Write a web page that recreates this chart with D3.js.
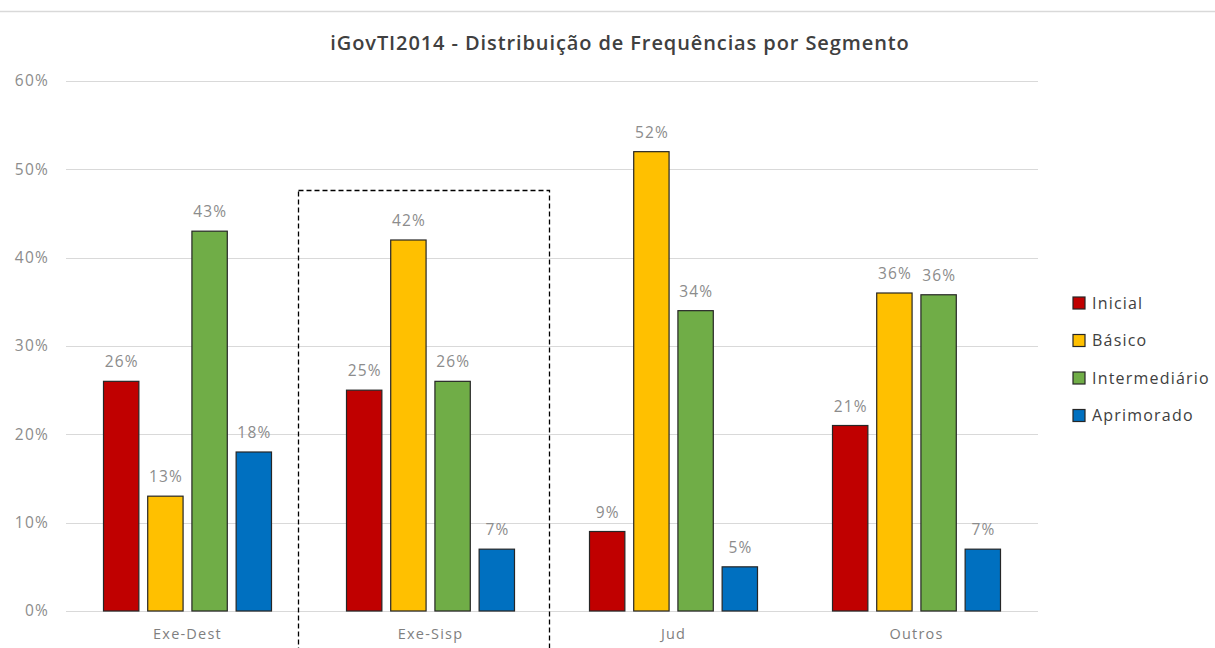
<!DOCTYPE html>
<html>
<head>
<meta charset="utf-8">
<script src="https://cdn.jsdelivr.net/npm/d3@7"></script>
<style>
  body { margin: 0; background: #fff; }
  svg { display: block; }
</style>
</head>
<body>
<svg id="chart"></svg>
<script>
// data
const segmentos = ['Exe-Dest', 'Exe-Sisp', 'Jud', 'Outros'];
const niveis = ['Inicial', 'Básico', 'Intermediário', 'Aprimorado'];
const inicial = [26, 25, 9, 21];
const basico = [13, 42, 52, 36];
const intermediario = [43, 26, 34, 35.8];
const aprimorado = [18, 7, 5, 7];
const yTicks = [0, 10, 20, 30, 40, 50, 60];
const destaque = 'Exe-Sisp';

const series = [inicial, basico, intermediario, aprimorado];
const colors = ['#C00000', '#FFC000', '#70AD47', '#0070C0'];

const width = 1215, height = 648;
const margin = { top: 81, left: 66, right: 177, bottom: 37 };
const fontFamily = "'Open Sans', 'Noto Sans', sans-serif";

const svg = d3.select('#chart').attr('width', width).attr('height', height);

// thin border line on top
svg.append('line')
  .attr('x1', 0).attr('x2', width).attr('y1', 11.5).attr('y2', 11.5)
  .attr('stroke', '#d9d9d9').attr('stroke-width', 1.5);

const x0 = d3.scaleBand().domain(segmentos).range([margin.left, width - margin.right]);
const x1 = d3.scaleBand().domain(niveis).range([0, 168]).paddingInner(0.2);
const y = d3.scaleLinear().domain([0, 60]).range([height - margin.bottom, margin.top]);

// gridlines
svg.append('g').selectAll('line')
  .data(yTicks)
  .enter().append('line')
  .attr('x1', margin.left).attr('x2', width - margin.right)
  .attr('y1', d => Math.round(y(d)) + 0.5).attr('y2', d => Math.round(y(d)) + 0.5)
  .attr('stroke', '#d9d9d9').attr('stroke-width', 1);

// y axis labels
const yAxis = d3.axisLeft(y).tickValues(yTicks).tickFormat(d => d + '%').tickSize(0).tickPadding(17);
const yAxisG = svg.append('g').attr('transform', `translate(${margin.left},0)`).call(yAxis);
yAxisG.select('.domain').remove();
yAxisG.selectAll('text')
  .style('font-family', fontFamily).style('font-size', '15.5px').style('letter-spacing', '1.2px')
  .attr('fill', '#8c8c8c');

// x axis labels
const xAxis = d3.axisBottom(x0).tickSize(0).tickPadding(18);
const xAxisG = svg.append('g').attr('transform', `translate(0,${height - margin.bottom})`).call(xAxis);
xAxisG.select('.domain').remove();
xAxisG.selectAll('text')
  .style('font-family', fontFamily).style('font-size', '14.5px').style('letter-spacing', '1.2px')
  .attr('fill', '#7f7f7f');

// bars
const groups = svg.append('g').selectAll('g')
  .data(segmentos)
  .enter().append('g')
  .attr('transform', d => `translate(${x0(d) + x0.bandwidth() / 2 - 84},0)`);

groups.selectAll('rect')
  .data((d, i) => niveis.map((n, k) => ({ nivel: n, k: k, v: series[k][i] })))
  .enter().append('rect')
  .attr('x', d => x1(d.nivel))
  .attr('y', d => y(d.v))
  .attr('width', x1.bandwidth())
  .attr('height', d => y(0) - y(d.v))
  .attr('fill', d => colors[d.k])
  .attr('stroke', '#262626')
  .attr('stroke-width', 1.2);

groups.selectAll('text')
  .data((d, i) => niveis.map((n, k) => ({ nivel: n, k: k, v: series[k][i] })))
  .enter().append('text')
  .attr('x', d => x1(d.nivel) + x1.bandwidth() / 2 + 0.6)
  .attr('y', d => y(d.v) - 14)
  .attr('text-anchor', 'middle')
  .text(d => Math.round(d.v) + '%')
  .style('font-family', fontFamily).style('font-size', '15.5px').style('letter-spacing', '1.2px')
  .attr('fill', '#8c8c8c');

// dashed highlight box
svg.append('rect')
  .attr('x', x0(destaque) - 10.5)
  .attr('y', 190.5)
  .attr('width', x0.bandwidth() + 8)
  .attr('height', height)
  .attr('fill', 'none')
  .attr('stroke', '#000')
  .attr('stroke-width', 1.3)
  .attr('stroke-dasharray', '5,3');

// title
svg.append('text')
  .attr('x', 620).attr('y', 50)
  .attr('text-anchor', 'middle')
  .text('iGovTI2014 - Distribuição de Frequências por Segmento')
  .style('font-family', fontFamily).style('font-size', '20px').style('font-weight', 600)
  .style('letter-spacing', '0.9px')
  .attr('fill', '#404040');

// legend
const legend = svg.append('g').selectAll('g')
  .data(niveis)
  .enter().append('g')
  .attr('transform', (d, i) => `translate(1073,${303 + i * 37.5})`);

legend.append('rect')
  .attr('x', 0).attr('y', -6).attr('width', 12).attr('height', 12)
  .attr('fill', (d, i) => colors[i])
  .attr('stroke', '#262626').attr('stroke-width', 1.2);

legend.append('text')
  .attr('x', 19).attr('y', 0).attr('dy', '0.35em')
  .text(d => d)
  .style('font-family', fontFamily).style('font-size', '16px').style('letter-spacing', '1.2px')
  .attr('fill', '#404040');
</script>
</body>
</html>
